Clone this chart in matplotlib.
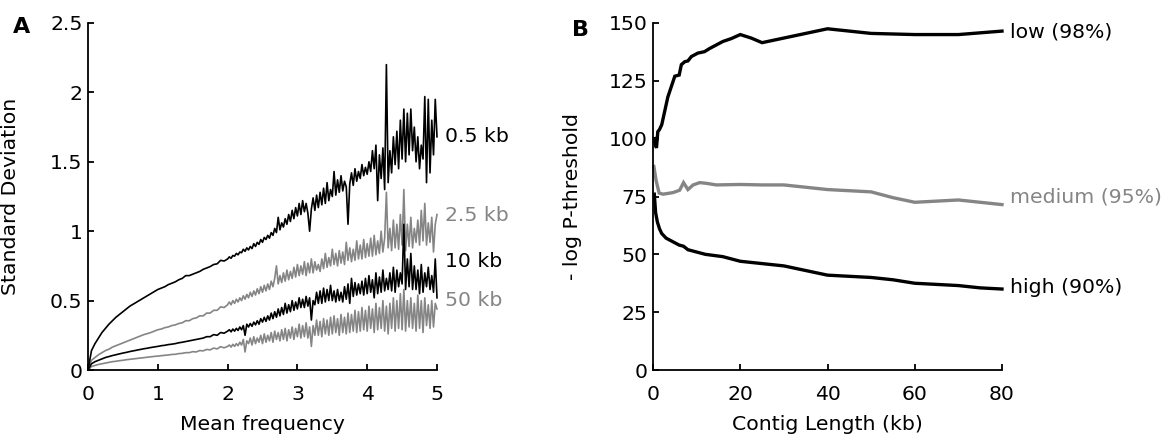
import numpy as np
import matplotlib
matplotlib.use("Agg")
import matplotlib.pyplot as plt

# ---------------- Panel A data ----------------
# mean frequency grid: 0.05 steps up to 1.95, then 0.025 steps from 2.0 to 5.0
mean_freq = np.round(np.concatenate([np.arange(40) * 0.05, 2.0 + np.arange(121) * 0.025]), 3)

sd_05kb = [
    # 0.00 - 1.95
    0.00, 0.14, 0.19, 0.23, 0.27, 0.30, 0.33, 0.355, 0.38, 0.40,
    0.42, 0.44, 0.46, 0.475, 0.49, 0.505, 0.52, 0.535, 0.55, 0.565,
    0.58, 0.59, 0.60, 0.615, 0.625, 0.635, 0.65, 0.66, 0.68, 0.68,
    0.69, 0.70, 0.71, 0.725, 0.735, 0.745, 0.76, 0.765, 0.79, 0.785,
    # 2.000 - 5.000
    0.80, 0.815, 0.805, 0.825, 0.82, 0.84, 0.83, 0.85, 0.845, 0.87,
    0.855, 0.88, 0.865, 0.89, 0.875, 0.91, 0.89, 0.92, 0.905, 0.94,
    0.92, 0.955, 0.94, 0.97, 0.95, 0.99, 0.97, 1.02, 0.99, 1.10,
    1.01, 1.06, 1.03, 1.09, 1.05, 1.12, 1.07, 1.15, 1.09, 1.17,
    1.11, 1.20, 1.12, 1.22, 1.14, 1.20, 1.13, 1.00, 1.16, 1.24,
    1.15, 1.26, 1.17, 1.28, 1.19, 1.31, 1.20, 1.35, 1.22, 1.30,
    1.25, 1.43, 1.26, 1.37, 1.28, 1.40, 1.29, 1.36, 1.32, 1.05,
    1.34, 1.42, 1.33, 1.45, 1.36, 1.43, 1.38, 1.48, 1.40, 1.46,
    1.41, 1.50, 1.43, 1.58, 1.45, 1.62, 1.22, 1.55, 1.38, 1.60,
    1.30, 2.20, 1.35, 1.58, 1.42, 1.68, 1.48, 1.72, 1.45, 1.80,
    1.52, 1.88, 1.50, 1.85, 1.55, 1.88, 1.58, 1.75, 1.50, 1.68,
    1.45, 1.62, 1.52, 1.97, 1.35, 1.95, 1.42, 1.80, 1.55, 1.95,
    1.68]

sd_25kb = [
    0.00, 0.07, 0.09, 0.11, 0.125, 0.14, 0.15, 0.165, 0.175, 0.185,
    0.195, 0.205, 0.215, 0.225, 0.235, 0.245, 0.255, 0.262, 0.27, 0.28,
    0.29, 0.295, 0.305, 0.31, 0.32, 0.325, 0.335, 0.34, 0.355, 0.355,
    0.37, 0.375, 0.39, 0.39, 0.41, 0.41, 0.43, 0.43, 0.455, 0.45,
    0.47, 0.49, 0.47, 0.50, 0.48, 0.51, 0.49, 0.52, 0.50, 0.535,
    0.51, 0.545, 0.52, 0.56, 0.53, 0.57, 0.54, 0.585, 0.55, 0.60,
    0.56, 0.61, 0.57, 0.62, 0.58, 0.64, 0.60, 0.66, 0.75, 0.62,
    0.68, 0.63, 0.70, 0.64, 0.72, 0.65, 0.71, 0.66, 0.74, 0.67,
    0.76, 0.68, 0.75, 0.69, 0.78, 0.68, 0.77, 0.70, 0.80, 0.70,
    0.78, 0.72, 0.76, 0.71, 0.80, 0.73, 0.84, 0.74, 0.81, 0.75,
    0.87, 0.76, 0.84, 0.75, 0.86, 0.77, 0.85, 0.76, 0.92, 0.79,
    0.88, 0.78, 0.87, 0.79, 0.93, 0.80, 0.90, 0.80, 0.94, 0.81,
    0.91, 0.82, 0.95, 0.82, 0.97, 0.83, 0.93, 0.84, 1.00, 0.85,
    0.95, 1.28, 0.88, 1.02, 0.86, 1.08, 0.88, 1.05, 0.87, 1.12,
    0.90, 1.30, 0.86, 1.05, 0.89, 1.10, 0.88, 1.02, 0.92, 1.08,
    0.90, 1.15, 0.93, 1.20, 0.90, 1.06, 0.92, 1.10, 0.85, 1.05,
    1.12]

sd_10kb = [
    0.00, 0.045, 0.06, 0.07, 0.08, 0.09, 0.097, 0.104, 0.11, 0.116,
    0.122, 0.127, 0.133, 0.138, 0.143, 0.148, 0.153, 0.157, 0.162, 0.166,
    0.17, 0.175, 0.178, 0.183, 0.186, 0.19, 0.196, 0.20, 0.205, 0.21,
    0.215, 0.22, 0.225, 0.23, 0.24, 0.24, 0.255, 0.25, 0.27, 0.265,
    0.28, 0.29, 0.275, 0.295, 0.28, 0.30, 0.285, 0.31, 0.29, 0.32,
    0.25, 0.33, 0.31, 0.335, 0.315, 0.345, 0.325, 0.355, 0.33, 0.37,
    0.345, 0.38, 0.35, 0.39, 0.36, 0.41, 0.37, 0.42, 0.38, 0.44,
    0.39, 0.45, 0.40, 0.48, 0.41, 0.47, 0.42, 0.50, 0.43, 0.49,
    0.44, 0.52, 0.45, 0.51, 0.45, 0.53, 0.46, 0.52, 0.36, 0.50,
    0.47, 0.56, 0.48, 0.57, 0.48, 0.59, 0.49, 0.58, 0.50, 0.61,
    0.50, 0.57, 0.49, 0.58, 0.50, 0.56, 0.49, 0.60, 0.51, 0.62,
    0.48, 0.66, 0.53, 0.63, 0.54, 0.62, 0.55, 0.64, 0.54, 0.66,
    0.55, 0.68, 0.56, 0.65, 0.52, 0.70, 0.55, 0.67, 0.56, 0.72,
    0.57, 0.66, 0.58, 0.70, 0.57, 0.74, 0.56, 0.72, 0.60, 0.70,
    0.62, 1.05, 0.58, 0.80, 0.60, 0.84, 0.58, 0.75, 0.58, 0.72,
    0.55, 0.76, 0.56, 0.70, 0.60, 0.74, 0.58, 0.68, 0.56, 0.80,
    0.52]

sd_50kb = [
    0.00, 0.025, 0.033, 0.04, 0.045, 0.05, 0.055, 0.06, 0.063, 0.067,
    0.07, 0.074, 0.077, 0.08, 0.083, 0.086, 0.089, 0.092, 0.095, 0.098,
    0.10, 0.103, 0.106, 0.108, 0.112, 0.113, 0.118, 0.12, 0.125, 0.125,
    0.132, 0.13, 0.14, 0.138, 0.148, 0.145, 0.158, 0.152, 0.168, 0.16,
    0.17, 0.18, 0.165, 0.185, 0.17, 0.19, 0.175, 0.20, 0.18, 0.22,
    0.13, 0.21, 0.19, 0.23, 0.18, 0.24, 0.19, 0.23, 0.20, 0.25,
    0.19, 0.26, 0.20, 0.25, 0.21, 0.27, 0.20, 0.28, 0.22, 0.27,
    0.21, 0.29, 0.22, 0.30, 0.21, 0.29, 0.23, 0.31, 0.22, 0.30,
    0.24, 0.33, 0.23, 0.32, 0.24, 0.34, 0.23, 0.31, 0.17, 0.32,
    0.25, 0.36, 0.25, 0.35, 0.24, 0.37, 0.26, 0.36, 0.25, 0.38,
    0.26, 0.39, 0.27, 0.37, 0.25, 0.40, 0.27, 0.38, 0.26, 0.41,
    0.27, 0.40, 0.28, 0.43, 0.27, 0.42, 0.28, 0.45, 0.29, 0.43,
    0.28, 0.46, 0.30, 0.44, 0.27, 0.48, 0.29, 0.45, 0.30, 0.50,
    0.28, 0.46, 0.26, 0.48, 0.30, 0.52, 0.28, 0.50, 0.30, 0.55,
    0.29, 0.58, 0.28, 0.50, 0.31, 0.52, 0.30, 0.48, 0.28, 0.54,
    0.30, 0.50, 0.27, 0.52, 0.32, 0.47, 0.30, 0.50, 0.31, 0.48,
    0.44]

series_a_labels = ["0.5 kb", "2.5 kb", "10 kb", "50 kb"]
label_a_y = [1.68, 1.11, 0.78, 0.50]

# ---------------- Panel B data ----------------
low_x = [0.3, 0.6, 0.8, 1.1, 1.5, 2, 2.7, 3.4, 4.2, 5, 6, 6.5, 7.3, 8, 8.8,
         10.3, 11.8, 13, 14.5, 16, 18, 20, 22.5, 25, 30, 35, 40, 45, 50, 60, 70, 80]
low_y = [100, 97, 96, 103, 104, 106, 112, 118, 122.5, 127, 127.5, 132, 133.3,
         133.6, 135.5, 137, 137.6, 139, 140.5, 142, 143.3, 145, 143.5, 141.5,
         143.5, 145.5, 147.5, 146.5, 145.5, 145, 145, 146.5]

med_x = [0.2, 0.7, 1.4, 2.3, 4.6, 6.1, 7, 8, 9.2, 10.7, 12.2, 14.5, 20, 25, 30,
         35, 40, 45, 50, 55, 60, 65, 70, 75, 80]
med_y = [88, 82, 76.5, 76, 76.7, 77.7, 81, 78, 80, 81, 80.7, 80, 80.2, 80, 80,
         79, 78, 77.5, 77, 74.5, 72.5, 73, 73.5, 72.5, 71.5]

high_x = [0.3, 0.6, 1, 1.5, 2, 3, 4, 5, 6, 7, 8, 10, 12, 14, 16, 18, 20, 25, 30,
          35, 40, 45, 50, 55, 60, 65, 70, 75, 80]
high_y = [76, 68, 64, 61, 59, 57, 56, 55, 54, 53.5, 52, 51, 50, 49.5, 49, 48,
          47, 46, 45, 43, 41, 40.5, 40, 39, 37.5, 37, 36.5, 35.5, 35]

series_b_labels = ["low (98%)", "medium (95%)", "high (90%)"]
label_b_y = [146.3, 74.9, 35.5]

# ---------------- Plot ----------------
W, H = 1166, 438
plt.rcParams['font.family'] = ['DejaVu Sans']
FS = 14.7
BLACK = "#000000"
GRAY = "#858585"

fig = plt.figure(figsize=(W / 100, H / 100), dpi=100)
bottom_px, top_px = 370, 23
axA = fig.add_axes([88 / W, (H - bottom_px) / H, 349 / W, (bottom_px - top_px) / H])
axB = fig.add_axes([653 / W, (H - bottom_px) / H, 349 / W, (bottom_px - top_px) / H])

colors_a = [BLACK, GRAY, BLACK, GRAY]
zorders_a = [4, 2, 3, 1]
for vals, c, z, lab, ly in zip([sd_05kb, sd_25kb, sd_10kb, sd_50kb], colors_a, zorders_a,
                               series_a_labels, label_a_y):
    axA.plot(mean_freq, vals, color=c, lw=1.2, clip_on=False, zorder=z)
    axA.text(5.12, ly, lab, color=c, fontsize=FS, ha='left', va='center', clip_on=False)

axA.set_xlim(0, 5)
axA.set_ylim(0, 2.5)
axA.set_xticks([0, 1, 2, 3, 4, 5])
axA.set_xticklabels(["0", "1", "2", "3", "4", "5"])
axA.set_yticks([0, 0.5, 1, 1.5, 2, 2.5])
axA.set_yticklabels(["0", "0.5", "1", "1.5", "2", "2.5"])
axA.set_xlabel("Mean frequency", fontsize=FS)
axA.set_ylabel("Standard Deviation", fontsize=FS)
axA.yaxis.set_label_coords(-0.195, 0.5)
axA.xaxis.set_label_coords(0.5, -0.13)

for xs, ys, c, lab, ly in zip([low_x, med_x, high_x], [low_y, med_y, high_y],
                              [BLACK, GRAY, BLACK], series_b_labels, label_b_y):
    axB.plot(xs, ys, color=c, lw=2.4, solid_joinstyle='miter', clip_on=False)
    axB.text(81.8, ly, lab, color=c, fontsize=FS, ha='left', va='center', clip_on=False)

axB.set_xlim(0, 80)
axB.set_ylim(0, 150)
axB.set_xticks([0, 20, 40, 60, 80])
axB.set_yticks([0, 25, 50, 75, 100, 125, 150])
axB.set_xlabel("Contig Length (kb)", fontsize=FS)
axB.set_ylabel("- log P-threshold", fontsize=FS)
axB.yaxis.set_label_coords(-0.203, 0.5)
axB.xaxis.set_label_coords(0.5, -0.13)

for ax in (axA, axB):
    for s in ("top", "right"):
        ax.spines[s].set_visible(False)
    for s in ("left", "bottom"):
        ax.spines[s].set_linewidth(1.3)
    ax.tick_params(direction='in', length=4, width=1.3, labelsize=FS)
    ax.tick_params(axis='x', pad=11)
    ax.tick_params(axis='y', pad=4)
    ax.set_facecolor('none')

fig.text(22 / W, 1 - 27 / H, "A", fontsize=16, fontweight='bold', ha='center', va='center')
fig.text(580 / W, 1 - 30 / H, "B", fontsize=16, fontweight='bold', ha='center', va='center')

fig.savefig("out.png", dpi=100, facecolor='white')
